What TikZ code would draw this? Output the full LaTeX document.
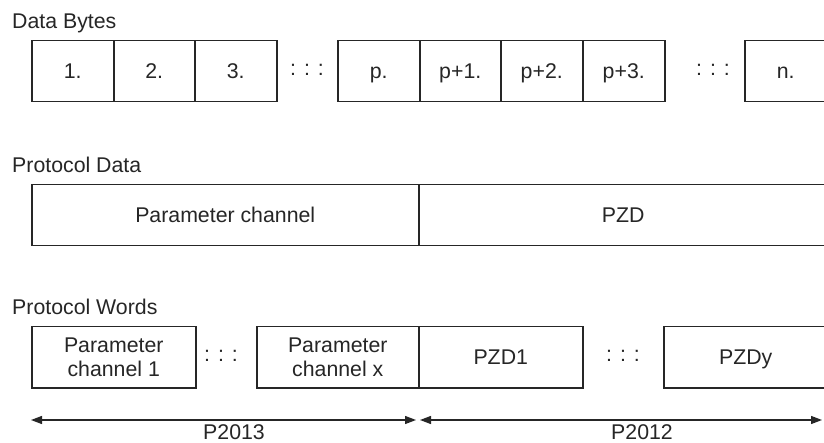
\documentclass[tikz,border=0pt]{standalone}
\usepackage{fontspec}
\setmainfont{Liberation Sans}
\usetikzlibrary{arrows.meta}
\definecolor{ink}{HTML}{262626}
\begin{document}
\begin{tikzpicture}[x=1pt,y=-1pt,
  every node/.style={font=\fontsize{21.3}{24.5}\selectfont, text=ink},
  box/.style={draw=ink, line width=1.5pt, inner sep=0pt, anchor=north west, align=center},
  oneline/.style={text height=15.3pt, text depth=0pt},
  bytebox/.style={box, oneline, minimum width=82pt, minimum height=61pt},
  wordbox/.style={box, minimum height=61pt},
  heading/.style={anchor=base west, inner sep=0pt},
  dots/.style={inner sep=0pt},
  dimline/.style={draw=ink, line width=1.3pt, {Triangle[length=11pt,width=8pt]}-{Triangle[length=11pt,width=8pt]}},
  dimlabel/.style={anchor=base, inner sep=0pt}]
\useasboundingbox (0,0) rectangle (824,443);
\fill[white] (0,0) rectangle (824,443);

% Data Bytes
\node[heading] (hdb) at (12,29) {Data Bytes};
\node[bytebox] (b1) at (31,40) {1.};
\node[bytebox] (b2) at (112.5,40) {2.};
\node[bytebox] (b3) at (194,40) {3.};
\node[dots] (d1) at (307,70) {: : :};
\node[bytebox] (bp) at (337,40) {p.};
\node[bytebox] (bp1) at (418.5,40) {p+1.};
\node[bytebox] (bp2) at (500,40) {p+2.};
\node[bytebox] (bp3) at (582,40) {p+3.};
\node[dots] (d2) at (713,70) {: : :};
\node[bytebox] (bn) at (744,40) {n.};

% Protocol Data
\node[heading] (hpd) at (12,173) {Protocol Data};
\node[box, oneline, minimum width=387pt, minimum height=61pt] (pc) at (31,184) {Parameter channel};
\node[box, oneline, minimum width=409pt, minimum height=61pt] (pzd) at (418,184) {PZD};

% Protocol Words
\node[heading] (hpw) at (12,315) {Protocol Words};
\node[wordbox, minimum width=164pt] (w1) at (31,326) {Parameter\\channel 1};
\node[dots] (d3) at (221,356) {: : :};
\node[wordbox, minimum width=162pt] (wx) at (256,326) {Parameter\\channel x};
\node[wordbox, oneline, minimum width=164pt] (z1) at (418,326) {PZD1};
\node[dots] (d4) at (623,356) {: : :};
\node[wordbox, oneline, minimum width=164pt] (zy) at (663,326) {PZDy};

% Dimension arrows
\coordinate (a1) at (31,420);
\coordinate (a2) at (416,420);
\coordinate (a3) at (420,420);
\coordinate (a4) at (822,420);
\draw[dimline] (a1) -- (a2);
\draw[dimline] (a3) -- (a4);
\node[dimlabel] (l1) at (234,439.5) {P2013};
\node[dimlabel] (l2) at (642,439.5) {P2012};
\end{tikzpicture}
\end{document}
